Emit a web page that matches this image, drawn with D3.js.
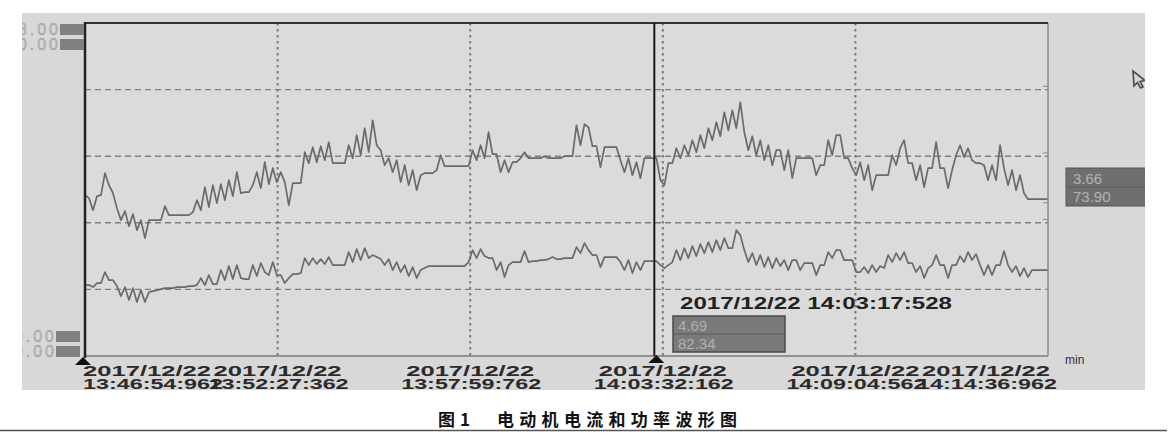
<!DOCTYPE html>
<html><head><meta charset="utf-8">
<script src="https://cdn.jsdelivr.net/npm/d3@7"></script>
<style>html,body{margin:0;padding:0;background:#fff;} svg{display:block;}</style>
</head><body><svg id="c" width="1175" height="444"></svg>
<script>
// ---- data (values in % of full scale, sampled uniformly over the window) ----
const upperSeries = [
48.3,47.4,43.8,48.0,48.3,54.9,51.3,48.9,44.4,40.8,
43.5,39.0,42.6,37.8,40.8,35.4,40.8,40.8,40.8,40.8,
45.0,42.3,42.3,42.3,42.3,42.3,42.3,43.2,46.8,43.8,
50.7,44.7,51.3,45.9,51.6,46.8,52.8,48.0,55.2,48.9,
49.2,49.2,51.3,55.2,50.4,58.2,51.6,56.4,52.2,55.2,
52.2,45.3,51.9,51.9,51.9,61.2,57.9,62.7,58.2,63.0,
58.8,64.2,57.9,57.9,57.9,57.9,63.3,59.4,66.3,60.3,
68.4,61.2,70.8,63.3,61.8,57.3,59.4,55.2,58.8,52.2,
57.3,51.3,55.8,49.8,54.3,54.9,54.9,54.9,55.8,60.3,
57.0,57.0,57.0,57.0,57.0,57.0,57.0,61.8,58.8,63.3,
59.4,67.2,60.6,60.6,55.2,58.8,55.2,58.2,58.2,59.4,
61.2,59.4,59.4,59.4,59.4,60.0,59.4,59.4,59.4,59.4,
60.0,60.0,60.0,69.3,63.3,69.6,68.7,63.0,63.0,56.7,
62.7,62.7,62.7,62.7,58.8,55.2,59.4,54.3,58.2,53.4,
59.4,59.4,59.4,59.4,52.8,51.3,57.9,57.9,62.4,59.4,
63.3,60.3,64.8,61.2,66.3,62.4,68.4,64.8,70.2,66.0,
73.2,67.8,73.8,68.4,76.2,67.2,61.8,66.0,60.3,64.8,
58.8,63.3,57.3,61.8,61.8,55.8,61.8,53.4,59.4,59.4,
59.4,59.4,59.4,54.3,57.3,57.3,64.8,60.3,66.3,66.3,
59.4,59.4,56.4,54.3,58.2,52.8,57.3,49.8,54.3,54.3,
54.3,54.3,60.3,57.3,62.4,64.8,57.9,57.9,52.8,57.3,
50.7,56.4,56.4,64.2,56.4,56.4,50.4,55.8,60.3,63.3,
59.7,62.4,58.8,57.9,57.9,57.3,52.8,57.3,52.8,63.3,
56.4,51.3,55.8,49.8,54.3,48.9,47.1,47.1,47.1,47.1,
47.1,47.1];
const lowerSeries = [
21.3,21.3,20.7,21.9,21.9,25.2,22.8,22.8,21.0,18.0,
20.7,16.8,20.4,16.2,19.8,16.2,19.2,19.5,19.8,20.1,
20.4,20.4,20.4,20.7,20.7,20.7,21.0,21.0,21.3,23.4,
21.3,24.3,21.6,21.6,25.8,22.8,27.0,23.1,27.3,23.4,
23.1,23.1,27.3,24.0,27.9,25.2,24.3,28.2,24.3,24.3,
21.9,23.4,24.6,24.6,24.9,29.4,27.3,29.4,27.6,29.1,
27.6,29.7,27.3,27.3,27.3,27.3,31.2,28.2,32.1,28.8,
32.4,29.4,30.3,29.7,29.1,27.3,29.1,25.8,28.2,25.2,
27.3,24.0,26.7,23.4,25.8,26.4,27.0,27.0,27.0,27.0,
27.0,27.0,27.0,27.0,27.0,27.0,28.2,31.8,29.4,32.1,
30.0,29.4,29.4,25.8,28.2,23.7,27.3,28.2,28.2,28.2,
31.5,28.2,28.5,28.5,28.8,28.8,29.1,29.7,29.1,29.1,
29.4,29.4,29.4,32.7,30.9,33.9,31.8,30.3,30.3,26.7,
29.7,29.7,29.7,29.7,28.2,25.8,28.8,24.9,28.2,25.8,
28.5,28.5,28.5,28.5,27.3,26.4,27.3,28.2,31.8,28.8,
32.4,29.4,33.0,30.0,33.6,30.9,34.2,31.2,34.8,31.8,
35.4,32.4,32.4,37.8,36.3,31.8,28.2,30.9,27.3,30.3,
26.7,29.7,26.4,29.4,27.0,28.8,25.8,28.8,28.8,25.8,
27.9,27.9,27.9,24.3,27.3,27.3,31.2,29.4,31.8,31.8,
28.8,28.8,28.8,25.2,25.2,26.7,24.9,27.3,25.2,27.0,
26.4,30.3,28.2,30.9,28.8,31.2,27.9,27.9,25.2,27.0,
23.4,26.4,27.3,30.3,27.3,27.3,23.4,27.3,27.3,30.0,
28.2,31.2,28.8,30.6,27.3,24.3,27.3,24.3,27.3,27.3,
31.5,27.3,25.2,27.0,24.0,26.4,23.7,25.8,25.8,25.8,
25.8,25.8];
const spanSeconds = 1662;                 // 13:46:54.962 -> 14:14:36.962
const tickSeconds = [0, 332.4, 664.8, 997.2, 1329.6, 1662];
const tickDates = ["2017/12/22","2017/12/22","2017/12/22","2017/12/22","2017/12/22","2017/12/22"];
const tickTimes = ["13:46:54:962","13:52:27:362","13:57:59:762","14:03:32:162","14:09:04:562","14:14:36:962"];
const gridValues = [20, 40, 60, 80];
const cursorSeconds = 982.566;            // 14:03:17.528
const cursorStamp = "2017/12/22 14:03:17:528";
const cursorValues = ["4.69", "82.34"];
const endValues = ["3.66", "73.90"];
const scaleTopLabels = ["8.00", "0.00"];
const scaleBottomLabels = ["0.00", "0.00"];
const unitLabel = "min";
const captionNo = "图1";
const captionText = "电动机电流和功率波形图";

// ---- drawing ----
const svg = d3.select("#c");
const plot = {l: 85, r: 1048, t: 23, b: 356};
const screen = {x: 22, y: 13, w: 1123, h: 377};
const x = d3.scaleLinear().domain([0, spanSeconds]).range([plot.l, plot.r]);
const y = d3.scaleLinear().domain([0, 100]).range([plot.b, plot.t]);
const dt = spanSeconds / (upperSeries.length - 1);
const labFont = "'Liberation Sans', Arial, sans-serif";

svg.append("rect").attr("width", 1175).attr("height", 444).attr("fill", "#fff");
const defs = svg.append("defs");
defs.append("clipPath").attr("id", "scr").append("rect")
  .attr("x", screen.x).attr("y", screen.y).attr("width", screen.w).attr("height", screen.h);
defs.append("clipPath").attr("id", "pl").append("rect")
  .attr("x", plot.l).attr("y", plot.t).attr("width", plot.r - plot.l).attr("height", plot.b - plot.t);

svg.append("rect").attr("x", screen.x).attr("y", screen.y).attr("width", screen.w).attr("height", screen.h)
  .attr("fill", "#d8d8d8");
svg.append("rect").attr("x", plot.l).attr("y", plot.t).attr("width", plot.r - plot.l).attr("height", plot.b - plot.t)
  .attr("fill", "#dbdbdb");

const g = svg.append("g").attr("clip-path", "url(#scr)");

// grid
g.selectAll("line.hg").data(gridValues).join("line").attr("class", "hg")
  .attr("x1", plot.l).attr("x2", plot.r).attr("y1", d => y(d)).attr("y2", d => y(d))
  .attr("stroke", "#7e7e7e").attr("stroke-width", 1.4).attr("stroke-dasharray", "6,4");
g.selectAll("line.vg").data(tickSeconds.slice(1, -1)).join("line").attr("class", "vg")
  .attr("x1", d => x(d)).attr("x2", d => x(d)).attr("y1", plot.t).attr("y2", plot.b)
  .attr("stroke", "#7a7a7a").attr("stroke-width", 2).attr("stroke-dasharray", "2.5,3.5");

// right ticks on border
g.selectAll("line.rt").data([81, 61, 46, 41]).join("line").attr("class", "rt")
  .attr("x1", plot.r - 5).attr("x2", plot.r).attr("y1", d => y(d)).attr("y2", d => y(d))
  .attr("stroke", "#888").attr("stroke-width", 1);

// series
const line = d3.line().x((d, i) => x(i * dt)).y(d => y(d)).curve(d3.curveLinear);
const sg = g.append("g").attr("clip-path", "url(#pl)");
[upperSeries, lowerSeries].forEach(s => {
  sg.append("path").attr("d", line(s)).attr("fill", "none")
    .attr("stroke", "#6a6a6a").attr("stroke-width", 1.7).attr("stroke-linejoin", "round");
});

// borders
g.append("line").attr("x1", plot.r).attr("x2", plot.r).attr("y1", plot.t).attr("y2", plot.b)
  .attr("stroke", "#8c8c8c").attr("stroke-width", 1.5);
g.append("line").attr("x1", plot.l).attr("x2", plot.r).attr("y1", plot.b).attr("y2", plot.b)
  .attr("stroke", "#7a7a7a").attr("stroke-width", 1.6);
g.append("line").attr("x1", plot.l).attr("x2", plot.r).attr("y1", plot.t).attr("y2", plot.t)
  .attr("stroke", "#333").attr("stroke-width", 2);
g.append("line").attr("x1", plot.l).attr("x2", plot.l).attr("y1", plot.t - 1).attr("y2", plot.b + 2)
  .attr("stroke", "#222").attr("stroke-width", 2.5);

// cursor
const cx = x(cursorSeconds);
g.append("line").attr("x1", cx).attr("x2", cx).attr("y1", plot.t).attr("y2", plot.b)
  .attr("stroke", "#1a1a1a").attr("stroke-width", 2);
const tri = (px, py) => `M${px},${py} L${px - 8},${py + 8} L${px + 8},${py + 8} Z`;
g.append("path").attr("d", tri(x(0) - 2, plot.b + 1)).attr("fill", "#111");
g.append("path").attr("d", tri(cx + 2, plot.b - 1)).attr("fill", "#111");

// tick labels: one text per tick, date and time as two stacked lines
tickSeconds.forEach((t, i) => {
  let px = x(t), anchor = "middle";
  if (i === 0) { px = x(t) - 2; anchor = "start"; }
  if (i === tickSeconds.length - 1) { px = x(t) - 62; }
  const tx = g.append("text").attr("text-anchor", anchor)
    .attr("font-family", labFont).attr("font-weight", "bold").attr("font-size", 15.5)
    .attr("fill", "#2a2a2a");
  tx.append("tspan").attr("x", px).attr("y", 376)
    .attr("textLength", 128).attr("lengthAdjust", "spacingAndGlyphs").text(tickDates[i]);
  tx.append("tspan").attr("x", px + (i === 0 ? 0 : 1)).attr("y", 389)
    .attr("textLength", 140).attr("lengthAdjust", "spacingAndGlyphs").text(tickTimes[i]);
});
g.append("text").attr("x", 1065).attr("y", 364).attr("font-family", labFont).attr("font-size", 12)
  .attr("fill", "#333").text(unitLabel);

// left scale labels (leading digit cut by the screen edge)
const sideLab = (labels, ys, textRight, boxX, boxW) => {
  labels.forEach((s, i) => {
    g.append("rect").attr("x", boxX).attr("y", ys[i] - 11).attr("width", boxW).attr("height", 11)
      .attr("fill", "#808080");
    g.append("text").attr("x", textRight).attr("y", ys[i]).attr("text-anchor", "end")
      .attr("font-family", labFont).attr("font-size", 16).attr("fill", "#b8b8b8")
      .attr("stroke", "#9a9a9a").attr("stroke-width", 0.4)
      .attr("textLength", 40).attr("lengthAdjust", "spacing").text(s);
  });
};
sideLab(scaleTopLabels, [35, 50], 58, 60, 24);
sideLab(scaleBottomLabels, [342, 357], 54, 56, 24);

// right end-value box
g.append("rect").attr("x", 1066).attr("y", 168).attr("width", 90).attr("height", 38)
  .attr("fill", "#6f6f6f").attr("stroke", "#555").attr("stroke-width", 1);
g.append("line").attr("x1", 1066).attr("x2", 1156).attr("y1", 187).attr("y2", 187).attr("stroke", "#5c5c5c");
endValues.forEach((s, i) => {
  g.append("text").attr("x", 1073).attr("y", 184 + i * 18).attr("font-family", labFont)
    .attr("font-size", 15).attr("fill", "#b3b3b3").text(s);
});

// cursor readout
g.append("text").attr("x", 680).attr("y", 309).attr("font-family", labFont).attr("font-weight", "bold")
  .attr("font-size", 16).attr("fill", "#222").attr("textLength", 272).attr("lengthAdjust", "spacingAndGlyphs")
  .text(cursorStamp);
g.append("rect").attr("x", 673).attr("y", 316).attr("width", 112).attr("height", 36)
  .attr("fill", "#7a7a7a").attr("stroke", "#4a4a4a").attr("stroke-width", 1.5);
g.append("line").attr("x1", 673).attr("x2", 785).attr("y1", 334).attr("y2", 334).attr("stroke", "#5a5a5a");
cursorValues.forEach((s, i) => {
  g.append("text").attr("x", 678).attr("y", 331 + i * 18).attr("font-family", labFont)
    .attr("font-size", 15).attr("fill", "#b0b0b0").text(s);
});

// mouse pointer
g.append("path").attr("d", "M1133,71 L1134,86 L1137.5,82.5 L1140.5,88 L1143,86.8 L1140,81.5 L1145,80.5 Z")
  .attr("fill", "#d7d7d7").attr("stroke", "#4a4a4a").attr("stroke-width", 1.6);

// caption
svg.append("text").attr("x", 438).attr("y", 426).attr("font-family", "'Noto Sans CJK SC', sans-serif")
  .attr("font-weight", "bold").attr("font-size", 17).attr("fill", "#111")
  .attr("textLength", 32).attr("lengthAdjust", "spacing").text(captionNo);
svg.append("text").attr("x", 497).attr("y", 426).attr("font-family", "'Noto Sans CJK SC', sans-serif")
  .attr("font-weight", "bold").attr("font-size", 17).attr("fill", "#111")
  .attr("textLength", 240).attr("lengthAdjust", "spacing").text(captionText);
svg.append("line").attr("x1", 0).attr("x2", 1167).attr("y1", 430.5).attr("y2", 430.5)
  .attr("stroke", "#555").attr("stroke-width", 1.5);
</script></body></html>
